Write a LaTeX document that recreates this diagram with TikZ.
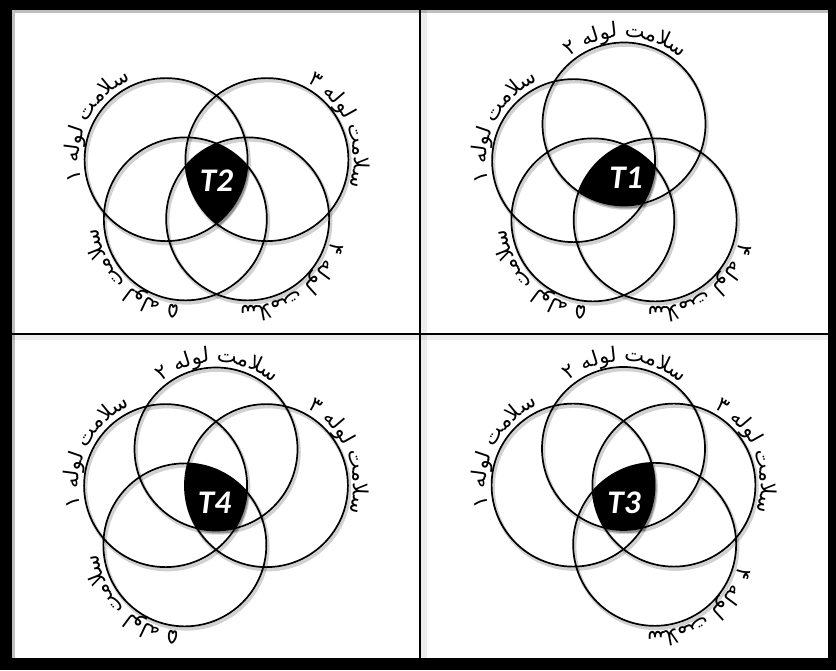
\documentclass[tikz,border=0pt]{standalone}
\usepackage{fontspec}
\newfontfamily\persiano{DejaVu Sans}
\newfontfamily\corsivo{Carlito}
\usetikzlibrary{decorations.text}
\tikzset{
  linea/.style={line width=1.7pt},
  ombra/.style={line width=3.5pt, opacity=0.18},
  scritta/.style={decorate, decoration={text along path, text align=center,
      text={|\persiano\fontsize{21}{21}\selectfont|#1}}},
  sigla/.style={text=white, font=\corsivo\bfseries\itshape\fontsize{33}{33}\selectfont},
}
\begin{document}
\begin{tikzpicture}[x=1pt,y=1pt]
        % --- macro riutilizzabili -----------------------------------------
        \def\raggio{81.5}   % raggio di un cerchio
        \def\scarto{53}     % distanza dei centri dal centro del pannello
        \def\base{87}       % raggio della linea di base delle scritte
        \def\cerchio#1#2#3#4{%
          \draw[ombra, shift={(#1)}, shift={(1.5,-2.5)}] (#2:\scarto) circle[radius=\raggio];
          \draw[linea, shift={(#1)}] (#2:\scarto) circle[radius=\raggio];
          \path[scritta={#4 ﻪﻟﻮﻟ ﺖﻣﻼﺳ}, shift={(#1)}, shift={(#2:\scarto)}]
            (#3+60:\base) arc[start angle=#3+60, end angle=#3-60, radius=\base];}
        \def\regione#1#2#3#4#5{%
          \begin{scope}[shift={(#1)}, shift={(2,-3)}]
            \clip (#2:\scarto) circle[radius=\raggio];
            \clip (#3:\scarto) circle[radius=\raggio];
            \clip (#4:\scarto) circle[radius=\raggio];
            \fill[opacity=0.3] (#5:\scarto) circle[radius=\raggio];
          \end{scope}
          \begin{scope}[shift={(#1)}]
            \clip (#2:\scarto) circle[radius=\raggio];
            \clip (#3:\scarto) circle[radius=\raggio];
            \clip (#4:\scarto) circle[radius=\raggio];
            \fill (#5:\scarto) circle[radius=\raggio];
          \end{scope}}
        % --- cornice ------------------------------------------------------
        \useasboundingbox (0,0) rectangle (836,670);
        \fill (0,0) rectangle (836,670);
        \fill[white] (12,12) rectangle (828,660);
        \draw[line width=3pt, opacity=0.25] (13.5,12) -- (13.5,658.5) -- (828,658.5);
        \draw[line width=6pt, opacity=0.07] (423.5,12) -- (423.5,660);
        \draw[line width=6pt, opacity=0.07] (12,332.5) -- (828,332.5);
        \draw[line width=2.5pt] (420,12) -- (420,660);
        \draw[line width=2.5pt] (12,336) -- (828,336);
        % --- pannello T2 (in alto a sinistra) -------------------------------
        \regione{216.5,494}{162}{18}{-54}{-126}
        \cerchio{216.5,494}{162}{154}{۱}
        \cerchio{216.5,494}{18}{22}{۳}
        \cerchio{216.5,494}{-54}{-55}{۴}
        \cerchio{216.5,494}{-126}{-134}{۵}
        \node[sigla] (t2) at (216.5,489) {T2};
        % --- pannello T1 (in alto a destra) ---------------------------------
        \regione{624,493}{162}{90}{-54}{-126}
        \cerchio{624,493}{162}{154}{۱}
        \cerchio{624,493}{90}{89}{۲}
        \cerchio{624,493}{-54}{-55}{۴}
        \cerchio{624,493}{-126}{-134}{۵}
        \node[sigla] (t1) at (626,492.5) {T1};
        % --- pannello T4 (in basso a sinistra) ------------------------------
        \regione{216,168}{162}{90}{18}{-126}
        \cerchio{216,168}{162}{154}{۱}
        \cerchio{216,168}{90}{89}{۲}
        \cerchio{216,168}{18}{22}{۳}
        \cerchio{216,168}{-126}{-134}{۵}
        \node[sigla] (t4) at (214.5,167.5) {T4};
        % --- pannello T3 (in basso a destra) --------------------------------
        \regione{623.5,168.5}{162}{90}{18}{-54}
        \cerchio{623.5,168.5}{162}{154}{۱}
        \cerchio{623.5,168.5}{90}{89}{۲}
        \cerchio{623.5,168.5}{18}{22}{۳}
        \cerchio{623.5,168.5}{-54}{-55}{۴}
        \node[sigla] (t3) at (624,167.5) {T3};
\end{tikzpicture}
\end{document}
